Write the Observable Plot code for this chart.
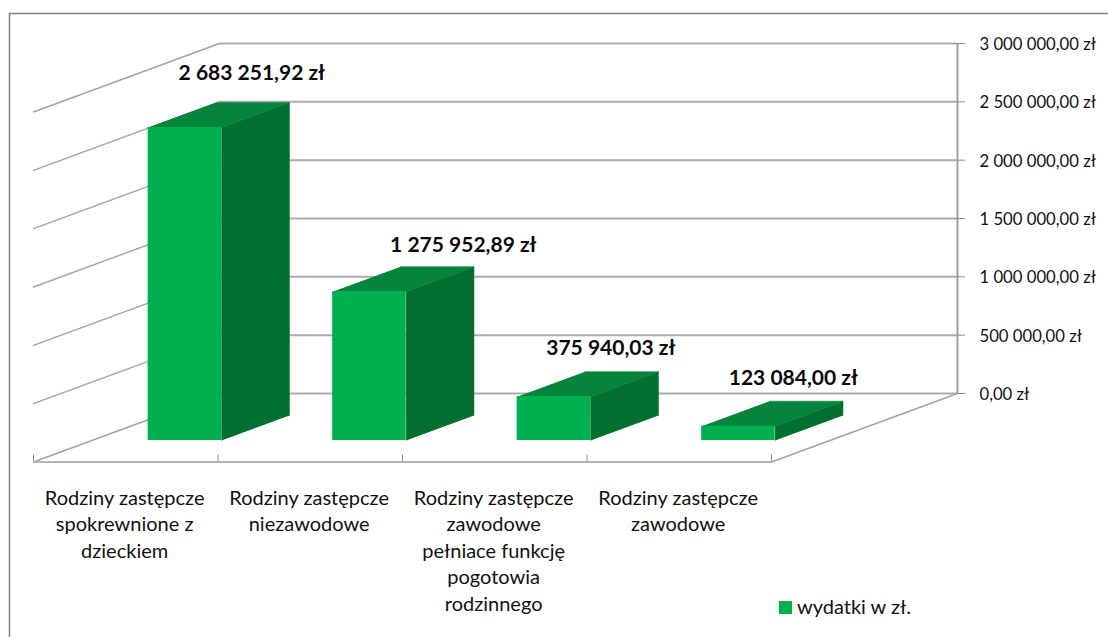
<!DOCTYPE html>
<html lang="pl">
<head>
<meta charset="utf-8">
<script src="https://cdn.jsdelivr.net/npm/d3@7"></script>
<script src="https://cdn.jsdelivr.net/npm/@observablehq/plot@0.6"></script>
<style>
  html, body { margin: 0; padding: 0; background: #fff; overflow: hidden; }
  #chart { position: absolute; left: 0; top: 0; width: 1108px; height: 637px; }
  #chart svg { display: block; }
</style>
</head>
<body>
<div id="chart"></div>
<script>
// ---- data ----
const categories = [
  "Rodziny zastępcze\nspokrewnione z\ndzieckiem",
  "Rodziny zastępcze\nniezawodowe",
  "Rodziny zastępcze\nzawodowe\npełniace funkcję\npogotowia\nrodzinnego",
  "Rodziny zastępcze\nzawodowe"
];
const values = [2683251.92, 1275952.89, 375940.03, 123084.00];
const valueLabels = ["2 683 251,92 zł", "1 275 952,89 zł", "375 940,03 zł", "123 084,00 zł"];
const tickValues = [0, 500000, 1000000, 1500000, 2000000, 2500000, 3000000];
const tickLabels = ["0,00 zł", "500 000,00 zł", "1 000 000,00 zł", "1 500 000,00 zł", "2 000 000,00 zł", "2 500 000,00 zł", "3 000 000,00 zł"];
const seriesName = "wydatki w zł.";

// ---- layout ----
const FONT = "Lato, 'Open Sans', sans-serif";
const W = 1108, H = 637;
const pxPerValue = 350 / 3000000;
const pxPerCat = 184.5;
const RISE = 68.5 / pxPerValue;      // how far "one unit of depth" raises a point, in value units
const RUN = 1.008;                   // how far one unit of depth shifts a point, in category units
const zFront = 0.314, zBack = 0.679; // bar depth range
const uLeft = 0.305, uRight = 0.703; // bar extent within a category
const nudge = [[33, -29], [60, -21], [23, -23], [21, -23]]; // hand-placed data labels, px from bar top centre

// oblique projection of (category position, value, depth) into the plot's x/y
const X = (u, z) => u + z * RUN;
const Y = (v, z) => v + z * RISE;
const pt = (u, v, z, id) => ({x: X(u, z), y: Y(v, z), id});

const rows = values.map((v, i) => ({i, v, label: valueLabels[i], cat: categories[i]}));
const topFaces = rows.flatMap(({i, v}) => [
  pt(i + uLeft, v, zFront, i), pt(i + uRight, v, zFront, i),
  pt(i + uRight, v, zBack, i), pt(i + uLeft, v, zBack, i)
]);
const sideFaces = rows.flatMap(({i, v}) => [
  pt(i + uRight, 0, zFront, i), pt(i + uRight, v, zFront, i),
  pt(i + uRight, v, zBack, i), pt(i + uRight, 0, zBack, i)
]);
const wallLines = tickValues.flatMap(v => [pt(0, v, 0, v), pt(0, v, 1, v)]);
const catEdges = d3.range(0, categories.length + 1);

const WALL = "#adadad", OBLIQUE = "#a3a3a3";
const INK = "#111111";

const plot = Plot.plot({
  width: W, height: H,
  marginTop: 0, marginRight: 0, marginBottom: 0, marginLeft: 0,
  style: {background: "transparent", fontFamily: FONT},
  x: {type: "linear", domain: [0, 4], range: [33, 771], axis: null},
  y: {type: "linear", domain: [0, 3000000 + RISE], range: [461.5, 43], axis: null},
  marks: [
    // left wall gridlines
    Plot.line(wallLines, {x: "x", y: "y", z: "id", stroke: OBLIQUE, strokeWidth: 1.4}),
    // back wall gridlines
    Plot.ruleY(tickValues, {y: d => Y(d, 1), x1: X(0, 1), x2: X(4, 1), stroke: WALL, strokeWidth: 2}),
    // back wall right edge
    Plot.ruleX([X(4, 1)], {y1: Y(0, 1), y2: Y(3000000, 1), stroke: "#a0a0a0", strokeWidth: 2}),
    // right-hand ticks
    Plot.ruleY(tickValues, {y: d => Y(d, 1), x1: X(4, 1), x2: X(4, 1) + 8 / pxPerCat, stroke: "#8c8c8c", strokeWidth: 1}),
    // floor
    Plot.ruleY([0], {x1: 0, x2: 4, stroke: "#b4b4b4", strokeWidth: 2.2}),
    Plot.line([pt(4, 0, 0, 0), pt(4, 0, 1, 0)], {x: "x", y: "y", stroke: OBLIQUE, strokeWidth: 1.4}),
    Plot.ruleX(catEdges, {y1: 0, y2: 60000, stroke: "#8c8c8c", strokeWidth: 1}),
    // bars
    Plot.line(sideFaces, {x: "x", y: "y", z: "id", fill: "#036f31", stroke: "#036f31", strokeWidth: 0.5}),
    Plot.line(topFaces, {x: "x", y: "y", z: "id", fill: "#05853c", stroke: "#05853c", strokeWidth: 0.5}),
    Plot.rect(rows, {
      x1: d => X(d.i + uLeft, zFront), x2: d => X(d.i + uRight, zFront),
      y1: () => Y(0, zFront), y2: d => Y(d.v, zFront), fill: "#00b050"
    }),
    // data labels
    ...rows.map((d, i) => Plot.text([d], {
      x: X(d.i + (uLeft + uRight) / 2, (zFront + zBack) / 2),
      y: Y(d.v, zBack),
      text: "label", dx: nudge[i][0], dy: nudge[i][1],
      fontSize: 21, fontWeight: 700, fill: "#0a0a0a", fontFamily: FONT
    })),
    // value tick labels
    Plot.text(tickValues, {
      x: X(4, 1), y: d => Y(d, 1), text: (d, i) => tickLabels[i],
      dx: 22, dy: 1, textAnchor: "start", fontSize: 16.7, fill: INK, fontFamily: FONT
    }),
    // category labels
    Plot.text(rows, {
      x: d => d.i + 0.494, y: 0, text: "cat", dy: 24, lineAnchor: "top", lineHeight: 1.325,
      fontSize: 20, fill: INK, fontFamily: FONT
    })
  ]
});

const root = document.getElementById("chart");
root.appendChild(plot);

// chart-area frame and legend, placed on the SVG in page terms
const svg = d3.select(plot);
svg.append("path").attr("d", `M9.5,${H} V13.5 H${W}`).attr("fill", "none").attr("stroke", "#868686").attr("stroke-width", 1.6);
svg.append("rect").attr("x", 779).attr("y", 601).attr("width", 13).attr("height", 13).attr("fill", "#00b050");
svg.append("text").attr("x", 797).attr("y", 614).attr("text-anchor", "start").attr("font-size", 20).attr("font-family", FONT).attr("fill", INK).text(seriesName);
</script>
</body>
</html>
